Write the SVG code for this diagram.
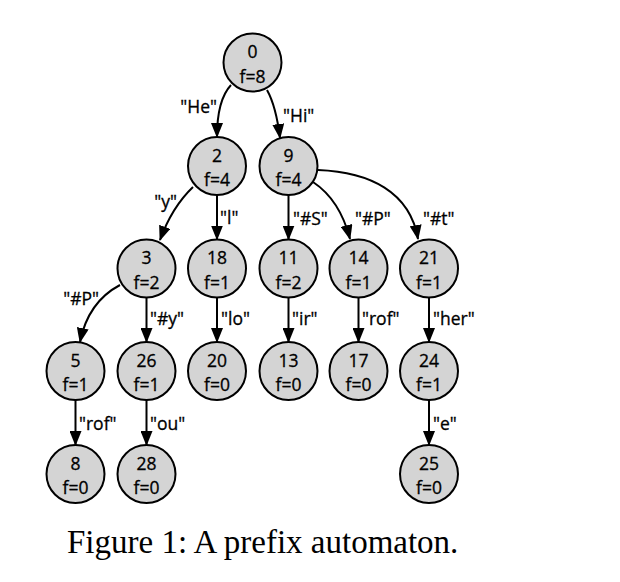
<svg xmlns="http://www.w3.org/2000/svg" width="620" height="582" viewBox="0 0 620 582">
<style>
.n circle{fill:#d4d4d4;stroke:#000;stroke-width:2}
.n text{font-family:"Open Sans","Liberation Sans",sans-serif;font-size:17.5px;text-anchor:middle;fill:#000;stroke:#000;stroke-width:0.3}
.e path{fill:none;stroke:#000;stroke-width:2;marker-end:url(#ah)}
.lb{font-family:"Open Sans","Liberation Sans",sans-serif;font-size:17.5px;fill:#000;stroke:#000;stroke-width:0.3}
.cap{font-family:"Liberation Serif","Times New Roman",serif;font-size:33px;fill:#000}
</style>
<defs>
<marker id="ah" viewBox="0 0 15 12" refX="14" refY="6" markerWidth="15" markerHeight="12" markerUnits="userSpaceOnUse" orient="auto">
<path d="M0,0 L15,6 L0,12 Z" fill="#000"/>
</marker>
</defs>
<rect width="620" height="582" fill="#fff"/>
<g id="connectors" class="e">
<path d="M231,85 Q217,100 217,137"/>
<path d="M267,90 Q276,106 280,138"/>
<path d="M193,187 Q172,207 160,240"/>
<path d="M217,195 L217,239.5"/>
<path d="M288.5,195 L288.5,239.5"/>
<path d="M313,182 Q340,200 350,239"/>
<path d="M318,170 C370,172 410,192 418,239"/>
<path d="M120,285 Q88,302 80,342"/>
<path d="M146.5,297.5 L146.5,342"/>
<path d="M217,297.5 L217,342"/>
<path d="M288.5,297.5 L288.5,342"/>
<path d="M358.5,297.5 L358.5,342"/>
<path d="M429,297.5 L429,342"/>
<path d="M75.5,400 L75.5,445"/>
<path d="M146.5,400 L146.5,445"/>
<path d="M429,400 L429,445"/>
</g>
<g id="labels">
<text class="lb" x="217" y="113" text-anchor="end">"He"</text>
<text class="lb" x="283" y="122">"Hi"</text>
<text class="lb" x="177" y="208" text-anchor="end">"y"</text>
<text class="lb" x="220" y="224">"l"</text>
<text class="lb" x="293" y="225">"#S"</text>
<text class="lb" x="355" y="225">"#P"</text>
<text class="lb" x="423" y="225">"#t"</text>
<text class="lb" x="99" y="305" text-anchor="end">"#P"</text>
<text class="lb" x="150" y="325">"#y"</text>
<text class="lb" x="221" y="325">"lo"</text>
<text class="lb" x="292" y="325">"ir"</text>
<text class="lb" x="362" y="325">"rof"</text>
<text class="lb" x="433" y="325">"her"</text>
<text class="lb" x="79" y="430">"rof"</text>
<text class="lb" x="150" y="430">"ou"</text>
<text class="lb" x="433" y="430">"e"</text>
</g>
<g id="node0" class="n"><circle cx="252.5" cy="62.5" r="29"/><text x="252.5" y="58">0</text><text x="252.5" y="82.5">f=8</text></g>
<g id="node2" class="n"><circle cx="217" cy="166" r="29"/><text x="217" y="161.5">2</text><text x="217" y="186">f=4</text></g>
<g id="node9" class="n"><circle cx="288.5" cy="166" r="29"/><text x="288.5" y="161.5">9</text><text x="288.5" y="186">f=4</text></g>
<g id="node3" class="n"><circle cx="146.5" cy="268.5" r="29"/><text x="146.5" y="264">3</text><text x="146.5" y="288.5">f=2</text></g>
<g id="node18" class="n"><circle cx="217" cy="268.5" r="29"/><text x="217" y="264">18</text><text x="217" y="288.5">f=1</text></g>
<g id="node11" class="n"><circle cx="288.5" cy="268.5" r="29"/><text x="288.5" y="264">11</text><text x="288.5" y="288.5">f=2</text></g>
<g id="node14" class="n"><circle cx="358.5" cy="268.5" r="29"/><text x="358.5" y="264">14</text><text x="358.5" y="288.5">f=1</text></g>
<g id="node21" class="n"><circle cx="429" cy="268.5" r="29"/><text x="429" y="264">21</text><text x="429" y="288.5">f=1</text></g>
<g id="node5" class="n"><circle cx="75.5" cy="371" r="29"/><text x="75.5" y="366.5">5</text><text x="75.5" y="391">f=1</text></g>
<g id="node26" class="n"><circle cx="146.5" cy="371" r="29"/><text x="146.5" y="366.5">26</text><text x="146.5" y="391">f=1</text></g>
<g id="node20" class="n"><circle cx="217" cy="371" r="29"/><text x="217" y="366.5">20</text><text x="217" y="391">f=0</text></g>
<g id="node13" class="n"><circle cx="288.5" cy="371" r="29"/><text x="288.5" y="366.5">13</text><text x="288.5" y="391">f=0</text></g>
<g id="node17" class="n"><circle cx="358.5" cy="371" r="29"/><text x="358.5" y="366.5">17</text><text x="358.5" y="391">f=0</text></g>
<g id="node24" class="n"><circle cx="429" cy="371" r="29"/><text x="429" y="366.5">24</text><text x="429" y="391">f=1</text></g>
<g id="node8" class="n"><circle cx="75.5" cy="474" r="29"/><text x="75.5" y="469.5">8</text><text x="75.5" y="494">f=0</text></g>
<g id="node28" class="n"><circle cx="146.5" cy="474" r="29"/><text x="146.5" y="469.5">28</text><text x="146.5" y="494">f=0</text></g>
<g id="node25" class="n"><circle cx="429" cy="474" r="29"/><text x="429" y="469.5">25</text><text x="429" y="494">f=0</text></g>
<text class="cap" x="67" y="553">Figure 1: A prefix automaton.</text>
</svg>
